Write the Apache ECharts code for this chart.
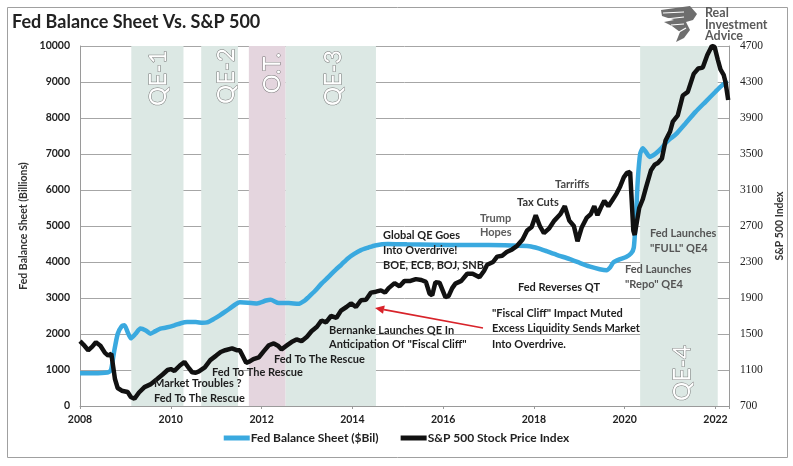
<!DOCTYPE html>
<html style="height: 100%">
<head>
<meta charset="utf-8">
<script src="https://cdn.jsdelivr.net/npm/echarts@6/dist/echarts.min.js"></script>
</head>
<body style="height: 100%; margin: 0; background: #fff">
<div id="container" style="width: 793px; height: 466px"></div>
<script type="text/javascript">
// Fed balance sheet, $bn (decimal year -> value)
const fedYears = [2008.00, 2008.30, 2008.60, 2008.68, 2008.75, 2008.83, 2008.92, 2008.98, 2009.05, 2009.12,
  2009.22, 2009.33, 2009.45, 2009.55, 2009.66, 2009.77, 2009.90, 2010.08, 2010.22, 2010.36,
  2010.55, 2010.70, 2010.80, 2010.95, 2011.08, 2011.20, 2011.30, 2011.42, 2011.52, 2011.70,
  2011.90, 2012.10, 2012.20, 2012.38, 2012.60, 2012.81, 2012.95, 2013.03, 2013.18, 2013.32,
  2013.47, 2013.62, 2013.76, 2013.90, 2014.05, 2014.19, 2014.35, 2014.50, 2014.78, 2015.20,
  2015.80, 2016.50, 2017.00, 2017.50, 2017.90, 2018.10, 2018.28, 2018.50, 2018.79, 2019.00,
  2019.22, 2019.45, 2019.60, 2019.68, 2019.75, 2019.90, 2020.03, 2020.14, 2020.20, 2020.25,
  2020.29, 2020.34, 2020.40, 2020.47, 2020.55, 2020.62, 2020.69, 2020.80, 2020.90, 2021.00,
  2021.13, 2021.34, 2021.56, 2021.78, 2022.00, 2022.12, 2022.20, 2022.28];
const fedValues = [910, 910, 930, 990, 1500, 2000, 2220, 2240, 2050, 1880,
  2000, 2150, 2100, 2010, 2080, 2150, 2180, 2240, 2300, 2330,
  2330, 2310, 2320, 2420, 2520, 2620, 2710, 2820, 2880, 2870,
  2850, 2930, 2950, 2860, 2860, 2840, 2930, 3020, 3200, 3400,
  3580, 3770, 3930, 4100, 4230, 4330, 4400, 4460, 4500, 4490,
  4480, 4470, 4470, 4460, 4440, 4380, 4300, 4200, 4080, 3980,
  3880, 3800, 3770, 3850, 3990, 4080, 4140, 4240, 4400, 5300,
  6300, 7000, 7160, 7050, 6920, 6960, 7020, 7150, 7300, 7420,
  7550, 7850, 8170, 8450, 8730, 8880, 8960, 8970];

// S&P 500 index level
const spxYears = [2008.00, 2008.08, 2008.18, 2008.27, 2008.35, 2008.45, 2008.55, 2008.62, 2008.69, 2008.77,
  2008.83, 2008.92, 2009.05, 2009.12, 2009.20, 2009.30, 2009.42, 2009.55, 2009.70, 2009.82,
  2009.93, 2010.00, 2010.08, 2010.20, 2010.30, 2010.40, 2010.47, 2010.55, 2010.62, 2010.75,
  2010.87, 2011.00, 2011.10, 2011.20, 2011.35, 2011.45, 2011.52, 2011.58, 2011.66, 2011.74,
  2011.82, 2011.94, 2012.05, 2012.16, 2012.27, 2012.36, 2012.44, 2012.55, 2012.66, 2012.77,
  2012.88, 2013.00, 2013.10, 2013.22, 2013.32, 2013.42, 2013.53, 2013.65, 2013.75, 2013.87,
  2013.97, 2014.08, 2014.19, 2014.30, 2014.41, 2014.52, 2014.63, 2014.72, 2014.80, 2014.93,
  2015.04, 2015.15, 2015.28, 2015.40, 2015.52, 2015.62, 2015.70, 2015.76, 2015.83, 2015.92,
  2016.05, 2016.12, 2016.20, 2016.27, 2016.40, 2016.53, 2016.65, 2016.80, 2016.90, 2016.97,
  2017.10, 2017.19, 2017.30, 2017.40, 2017.52, 2017.63, 2017.75, 2017.85, 2017.95, 2018.04,
  2018.13, 2018.22, 2018.33, 2018.45, 2018.58, 2018.68, 2018.78, 2018.88, 2018.96, 2019.05,
  2019.16, 2019.25, 2019.33, 2019.40, 2019.47, 2019.55, 2019.64, 2019.72, 2019.82, 2019.90,
  2019.98, 2020.05, 2020.12, 2020.19, 2020.22, 2020.32, 2020.40, 2020.47, 2020.58, 2020.66,
  2020.73, 2020.82, 2020.90, 2021.00, 2021.06, 2021.17, 2021.28, 2021.39, 2021.52, 2021.62,
  2021.72, 2021.82, 2021.92, 2021.98, 2022.05, 2022.11, 2022.18, 2022.22, 2022.28];
const spxValues = [1420, 1380, 1320, 1360, 1408, 1370, 1290, 1260, 1280, 1000,
  900, 870, 855, 800, 780, 850, 910, 940, 1000, 1050,
  1100, 1110, 1090, 1150, 1190, 1120, 1075, 1070, 1085, 1130,
  1210, 1260, 1300, 1320, 1340, 1320, 1320, 1260, 1180, 1195,
  1220, 1240, 1310, 1375, 1395, 1370, 1330, 1370, 1410, 1440,
  1420, 1470, 1530, 1580, 1650, 1630, 1700, 1680, 1760, 1800,
  1840, 1800, 1875, 1880, 1960, 1970, 1985, 1960, 2010, 2065,
  2030, 2090, 2090, 2110, 2100, 2080, 1950, 1930, 2075, 2070,
  1910, 1920, 2010, 2060, 2090, 2170, 2170, 2130, 2200, 2270,
  2300, 2360, 2370, 2410, 2440, 2480, 2550, 2650, 2690, 2820,
  2700, 2620, 2670, 2760, 2830, 2920, 2760, 2700, 2530, 2680,
  2790, 2830, 2920, 2820, 2900, 2980, 2920, 2980, 3060, 3140,
  3240, 3290, 3300, 2650, 2600, 2900, 3000, 3130, 3320, 3380,
  3400, 3450, 3650, 3750, 3860, 3930, 4150, 4190, 4390, 4450,
  4460, 4600, 4700, 4690, 4550, 4440, 4380, 4300, 4100];

// shaded policy periods
const bandNames = ['QE-1', 'QE-2', 'O.T.', 'QE-3', 'QE-4'];
const bandStarts = [2009.13, 2010.67, 2011.72, 2012.53, 2020.34];
const bandEnds = [2010.28, 2011.48, 2012.53, 2014.52, 2022.05];

const xTicks = [2008, 2010, 2012, 2014, 2016, 2018, 2020, 2022];

const dom = document.getElementById('container');
const myChart = echarts.init(dom, null, {renderer: 'canvas'});

const GREEN = '#dce8e4';
const PINK = '#e4d5de';
const BLUE = '#3aa9df';
const FONT = 'Lato';

const fedData = fedYears.map((y, i) => [y, fedValues[i]]);
const spxData = spxYears.map((y, i) => [y, spxValues[i]]);
const bandAreas = bandNames.map((n, i) => [
    {xAxis: bandStarts[i], itemStyle: {color: n === 'O.T.' ? PINK : GREEN}},
    {xAxis: bandEnds[i]}
]);

function txt(x, y, text, color, size) {
    return {
        type: 'text', x: x, y: y, silent: true, z: 100,
        style: {
            text: text, fill: color || '#1e1e1e',
            font: 'bold ' + (size || 11) + 'px ' + FONT,
            align: 'left', verticalAlign: 'middle',
            textAlign: 'left', textVerticalAlign: 'middle'
        }
    };
}
function qeLabel(x, y, text) {
    return {
        type: 'text', x: x, y: y, rotation: Math.PI / 2, silent: true, z: 100,
        style: {
            text: text, fill: '#fff', stroke: '#777', lineWidth: 1,
            font: '24px ' + FONT,
            align: 'center', verticalAlign: 'middle',
            textAlign: 'center', textVerticalAlign: 'middle'
        }
    };
}

const GREY = '#5a5a5a';
const graphics = [
    {type: 'rect', shape: {x: 7.5, y: 7.5, width: 780, height: 450}, style: {fill: 'none', stroke: '#a0a0a0', lineWidth: 1}, silent: true},
    {type: 'text', x: 12, y: 22, z: 100, style: {text: 'Fed Balance Sheet Vs. S&P 500', fill: '#222', font: 'bold 18px ' + FONT, align: 'left', verticalAlign: 'middle', textAlign: 'left', textVerticalAlign: 'middle'}},
    // logo
    {type: 'polygon', z: 100, shape: {points: [[661, 10], [690, 6], [697, 14], [693, 20], [686, 22], [690, 30], [684, 38], [676, 42], [680, 32], [672, 26], [664, 22], [674, 20], [662, 16]]}, style: {fill: '#6e6e6e'}},
    {type: 'polyline', z: 101, shape: {points: [[663, 13], [684, 12]]}, style: {stroke: '#fff', lineWidth: 1.2}},
    {type: 'polyline', z: 101, shape: {points: [[666, 19], [684, 17]]}, style: {stroke: '#fff', lineWidth: 1.2}},
    {type: 'polyline', z: 101, shape: {points: [[671, 25], [684, 24]]}, style: {stroke: '#fff', lineWidth: 1.2}},
    {type: 'polyline', z: 101, shape: {points: [[679, 32], [686, 28]]}, style: {stroke: '#fff', lineWidth: 1.2}},
    txt(705, 13, 'Real', GREY, 12.5),
    txt(705, 25, 'Investment', GREY, 12.5),
    txt(705, 36, 'Advice', GREY, 12.5),
    // shaded period labels
    qeLabel(158, 78, 'QE-1'),
    qeLabel(226, 76, 'QE-2'),
    qeLabel(272, 73, 'O.T.'),
    qeLabel(333, 78, 'QE-3'),
    qeLabel(682, 373, 'QE-4'),
    // annotations
    txt(154, 383, 'Market Troubles ?'),
    txt(154, 398, 'Fed To The Rescue'),
    txt(212, 372, 'Fed To The Rescue'),
    txt(274, 359, 'Fed To The Rescue'),
    txt(329, 330, 'Bernanke Launches QE In'),
    txt(329, 344, 'Anticipation Of "Fiscal Cliff"'),
    txt(383, 235, 'Global QE Goes'),
    txt(383, 250, 'Into Overdrive!'),
    txt(383, 265, 'BOE, ECB, BOJ, SNB'),
    txt(480, 218, 'Trump', '#5c5c5c'),
    txt(480, 232, 'Hopes', '#5c5c5c'),
    txt(517, 202, 'Tax Cuts', '#333'),
    txt(555, 184, 'Tarriffs', '#4a4a4a'),
    txt(518, 287, 'Fed Reverses QT'),
    txt(492, 313, '"Fiscal Cliff" Impact Muted'),
    txt(492, 328, 'Excess Liquidity Sends Market'),
    txt(492, 344, 'Into Overdrive.'),
    txt(650, 233, 'Fed Launches', '#555'),
    txt(650, 248, '"FULL" QE4', '#555'),
    txt(625, 269, 'Fed Launches', '#555'),
    txt(625, 284, '"Repo" QE4', '#555'),
    // red arrow
    {type: 'line', z: 100, shape: {x1: 483, y1: 328, x2: 384, y2: 309.6}, style: {stroke: '#d8232a', lineWidth: 1.6}},
    {type: 'polygon', z: 100, shape: {points: [[375, 308], [384.8, 305.4], [383, 313.8]]}, style: {fill: '#d8232a'}}
];

option = {
    animation: false,
    backgroundColor: '#fff',
    textStyle: {fontFamily: FONT},
    grid: {left: 80, right: 60, top: 46, bottom: 60},
    legend: {
        data: ['Fed Balance Sheet ($Bil)', 'S&P 500 Stock Price Index'],
        bottom: 17, left: 'center',
        icon: 'rect', itemWidth: 26, itemHeight: 5, itemGap: 22,
        textStyle: {fontFamily: FONT, fontWeight: 'bold', fontSize: 12, color: '#222', padding: [0, 0, 0, -4]}
    },
    xAxis: {
        type: 'value', min: 2008, max: 2022.3, interval: 2,
        axisLine: {lineStyle: {color: '#9a9a9a'}},
        axisTick: {show: true, length: 3, lineStyle: {color: '#9a9a9a'}},
        splitLine: {show: false},
        axisLabel: {
            fontFamily: FONT, fontWeight: 'bold', fontSize: 10.5, color: '#222', margin: 8,
            formatter: v => (xTicks.indexOf(v) >= 0 ? String(v) : '')
        }
    },
    yAxis: [{
        type: 'value', min: 0, max: 10000, interval: 1000,
        name: 'Fed Balance Sheet (Billions)', nameLocation: 'middle', nameGap: 48,
        nameTextStyle: {fontFamily: FONT, fontWeight: 'bold', fontSize: 10.5, color: '#333'},
        axisLine: {show: true, lineStyle: {color: '#9a9a9a'}},
        axisTick: {show: false},
        splitLine: {lineStyle: {color: '#a6a6a6', width: 1}},
        axisLabel: {fontFamily: FONT, fontWeight: 'bold', fontSize: 10.5, color: '#222', margin: 10,
            formatter: v => String(v)}
    }, {
        type: 'value', min: 700, max: 4700, interval: 400,
        name: 'S&P 500 Index', nameLocation: 'middle', nameGap: 44,
        nameTextStyle: {fontFamily: FONT, fontWeight: 'bold', fontSize: 10.5, color: '#333'},
        axisLine: {show: true, lineStyle: {color: '#9a9a9a'}},
        axisTick: {show: false},
        splitLine: {show: false},
        axisLabel: {fontFamily: 'Liberation Serif', fontSize: 11.5, color: '#222', margin: 11,
            formatter: v => String(v)}
    }],
    series: [{
        name: 'Fed Balance Sheet ($Bil)', type: 'line', yAxisIndex: 0,
        data: fedData, showSymbol: false, smooth: 0.2,
        lineStyle: {color: BLUE, width: 4.5}, itemStyle: {color: BLUE},
        markArea: {silent: true, data: bandAreas},
        z: 3
    }, {
        name: 'S&P 500 Stock Price Index', type: 'line', yAxisIndex: 1,
        data: spxData, showSymbol: false,
        lineStyle: {color: '#111', width: 4.5}, itemStyle: {color: '#111'},
        z: 4
    }],
    graphic: graphics
};

if (option && typeof option === 'object') {
    myChart.setOption(option, true);
}
</script>
</body>
</html>
